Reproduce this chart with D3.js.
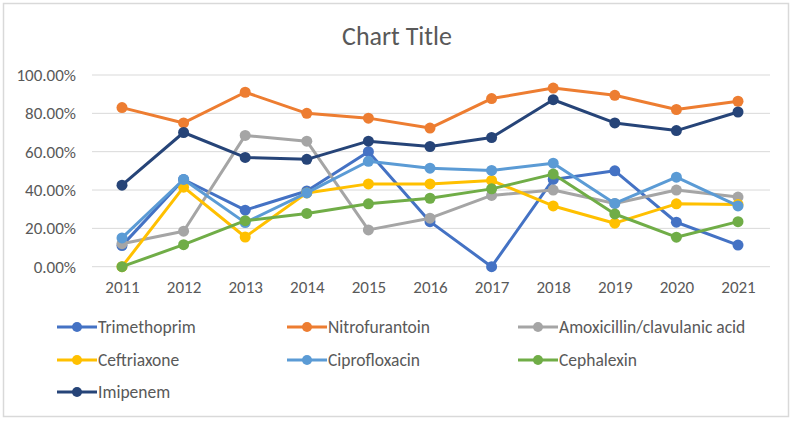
<!DOCTYPE html>
<html>
<head>
<meta charset="utf-8">
<script src="https://cdn.jsdelivr.net/npm/d3@7"></script>
<style>
body { margin: 0; background: #fff; }
text { font-family: Carlito, "Liberation Sans Narrow", "Open Sans", sans-serif; fill: #595959; }
</style>
</head>
<body>
<div id="chart"></div>
<script>
var years = ["2011","2012","2013","2014","2015","2016","2017","2018","2019","2020","2021"];
var seriesNames = ["Trimethoprim","Nitrofurantoin","Amoxicillin/clavulanic acid","Ceftriaxone","Ciprofloxacin","Cephalexin","Imipenem"];
var seriesColors = ["#4472C4","#ED7D31","#A5A5A5","#FFC000","#5B9BD5","#70AD47","#264478"];
var trimethoprim   = [11, 45.5, 29.5, 39.5, 60, 23.5, 0, 45.5, 50, 23.2, 11.3];
var nitrofurantoin = [83, 75, 91, 80, 77.5, 72.3, 87.7, 93.2, 89.4, 82, 86.3];
var amoxiclav      = [12, 18.5, 68.5, 65.5, 19.2, 25.3, 37.2, 40, 33, 40, 36.3];
var ceftriaxone    = [0, 41.5, 15.5, 38.5, 43.2, 43.2, 45, 31.7, 22.7, 32.8, 32.5];
var ciprofloxacin  = [15, 45.5, 23, 38.5, 55, 51.4, 50.2, 54, 33, 46.7, 31.7];
var cephalexin     = [0, 11.5, 24, 27.8, 32.8, 35.7, 40.6, 48.3, 27.5, 15.4, 23.5];
var imipenem       = [42.5, 70, 57, 56, 65.5, 62.7, 67.4, 87.1, 75, 71, 80.7];
var yTicks = [0, 20, 40, 60, 80, 100];

var allValues = [trimethoprim, nitrofurantoin, amoxiclav, ceftriaxone, ciprofloxacin, cephalexin, imipenem];

var width = 792, height = 423;
var svg = d3.select("#chart").append("svg")
    .attr("width", width)
    .attr("height", height);

svg.append("rect")
    .attr("x", 3.5).attr("y", 3.5)
    .attr("width", 785).attr("height", 413)
    .attr("fill", "#fff")
    .attr("stroke", "#d9d9d9")
    .attr("stroke-width", 1.5);

svg.append("text")
    .attr("x", 397).attr("y", 45)
    .attr("text-anchor", "middle")
    .style("font-size", "26px")
    .text("Chart Title");

var x = d3.scalePoint().domain(years).range([122, 738]);
var y = d3.scaleLinear().domain([0, 100]).range([266.7, 75]);

// gridlines
svg.append("g")
    .selectAll("line")
    .data(yTicks)
    .enter().append("line")
    .attr("x1", 92).attr("x2", 770)
    .attr("y1", function(d){ return y(d); })
    .attr("y2", function(d){ return y(d); })
    .attr("stroke", "#d9d9d9")
    .attr("stroke-width", 1);

var yAxis = d3.axisLeft(y).tickValues(yTicks).tickSize(0).tickPadding(0)
    .tickFormat(function(d){ return d.toFixed(2) + "%"; });
var gy = svg.append("g")
    .attr("transform", "translate(76,0)")
    .call(yAxis);
gy.select(".domain").remove();
gy.selectAll("text").style("font-size", "17px").style("font-family", null).attr("fill", null);

var xAxis = d3.axisBottom(x).tickSize(0).tickPadding(0);
var gx = svg.append("g")
    .attr("transform", "translate(0,281)")
    .call(xAxis);
gx.select(".domain").remove();
gx.selectAll("text").style("font-size", "17px").style("font-family", null).attr("fill", null);

var line = d3.line()
    .x(function(d, i){ return x(years[i]); })
    .y(function(d){ return y(d); });

var series = seriesNames.map(function(n, i){ return { name: n, color: seriesColors[i], values: allValues[i] }; });

var sg = svg.append("g").selectAll("g.series")
    .data(series)
    .enter().append("g")
    .attr("class", "series");

sg.append("path")
    .attr("d", function(d){ return line(d.values); })
    .attr("fill", "none")
    .attr("stroke", function(d){ return d.color; })
    .attr("stroke-width", 3)
    .attr("stroke-linejoin", "round");

sg.selectAll("circle")
    .data(function(d){ return d.values.map(function(v, i){ return { v: v, i: i, color: d.color }; }); })
    .enter().append("circle")
    .attr("cx", function(d){ return x(years[d.i]); })
    .attr("cy", function(d){ return y(d.v); })
    .attr("r", 5.5)
    .attr("fill", function(d){ return d.color; });

// legend
var legendCols = [57, 287, 518];
var legendRows = [327, 360, 392];
var lg = svg.append("g").selectAll("g.legend")
    .data(series)
    .enter().append("g")
    .attr("class", "legend")
    .attr("transform", function(d, i){
        return "translate(" + legendCols[i % 3] + "," + legendRows[Math.floor(i / 3)] + ")";
    });

lg.append("line")
    .attr("x1", 0).attr("x2", 40)
    .attr("y1", 0).attr("y2", 0)
    .attr("stroke", function(d){ return d.color; })
    .attr("stroke-width", 3);

lg.append("circle")
    .attr("cx", 20).attr("cy", 0).attr("r", 5)
    .attr("fill", function(d){ return d.color; });

lg.append("text")
    .attr("x", 41).attr("y", 0)
    .attr("dy", "0.35em")
    .style("font-size", "17.5px")
    .text(function(d){ return d.name; });
</script>
</body>
</html>
